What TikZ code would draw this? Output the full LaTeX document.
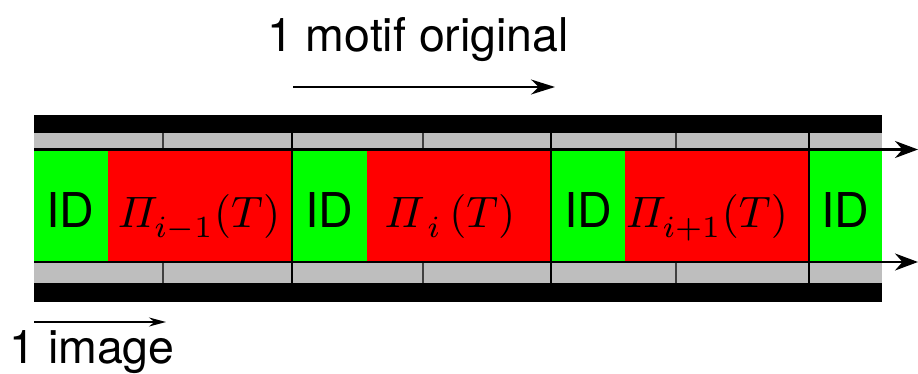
\documentclass[tikz,border=0pt]{standalone}
\usepackage{amsmath}
\usepackage[no-math]{fontspec}
\setmainfont{TeX Gyre Heros}
\usetikzlibrary{arrows.meta}
\definecolor{bandgray}{HTML}{BEBEBE}
\definecolor{tickgray}{HTML}{404040}
\definecolor{idgreen}{HTML}{00FF00}
\definecolor{pired}{HTML}{FF0000}
\newcommand\lowsub[1]{\lower0.8pt\hbox{$\scriptstyle #1$}}
\tikzset{
  idlabel/.style={anchor=base, inner sep=0pt, font=\fontsize{48}{56}\selectfont},
  pilabel/.style={anchor=base, inner sep=0pt, scale=4.4},
  toplabel/.style={anchor=base, inner sep=0pt, font=\fontsize{46.5}{54}\selectfont},
  bigarrow/.style={line width=2.5pt, -{Stealth[length=23pt,width=17pt]}},
  motifarrow/.style={line width=2pt, -{Stealth[length=24pt,width=15pt]}},
  imgarrow/.style={line width=1.5pt, -{Stealth[length=17pt,width=9pt]}},
  tick/.style={draw=tickgray, line width=1.5pt},
  divider/.style={draw=black, line width=1.2pt}
}
\begin{document}
\begin{tikzpicture}[x=1pt,y=-1pt]
\useasboundingbox (0,0) rectangle (918,374);
% bands
\fill[black] (34,115) rectangle (882,133);
\fill[bandgray] (34,133) rectangle (882,150);
\fill[bandgray] (34,262) rectangle (882,283);
\fill[black] (34,283) rectangle (882,302);
% coloured cells
\fill[idgreen] (34,150) rectangle (108,262);
\fill[pired] (108,150) rectangle (292,262);
\fill[idgreen] (292,150) rectangle (367,262);
\fill[pired] (367,150) rectangle (551,262);
\fill[idgreen] (551,150) rectangle (625,262);
\fill[pired] (625,150) rectangle (809,262);
\fill[idgreen] (809,150) rectangle (882,262);
% image ticks
\foreach \x in {163,423,676} {
  \draw[tick] (\x,133) -- (\x,151);
  \draw[tick] (\x,262) -- (\x,283);
}
\foreach \x in {292,551,809} {
  \draw[divider] (\x,133) -- (\x,283);
}
% long arrows
\coordinate (ta) at (34,149.5);
\coordinate (tb) at (918,149.5);
\coordinate (ba) at (34,262);
\coordinate (bb) at (918,262);
\draw[bigarrow] (ta) -- (tb);
\draw[bigarrow] (ba) -- (bb);
% labels in cells
\node[idlabel] (id1) at (70,228) {ID};
\node[idlabel] (id2) at (329,228) {ID};
\node[idlabel] (id3) at (588,228) {ID};
\node[idlabel] (id4) at (845,228) {ID};
\node[pilabel] (p1) at (199,227) {$\varPi_{\lowsub{i-1}}(T)$};
\node[pilabel] (p2) at (450,227) {$\varPi_{\,\lowsub{i}}\,(T)$};
\node[pilabel] (p3) at (707,227) {$\varPi_{\lowsub{i+1}}(T)$};
% motif arrow
\node[toplabel] (motif) at (418,52) {1 motif original};
\coordinate (ma) at (293,87);
\coordinate (mb) at (555,87);
\draw[motifarrow] (ma) -- (mb);
% image arrow
\coordinate (ia) at (34,322);
\coordinate (ib) at (166,322);
\draw[imgarrow] (ia) -- (ib);
\node[toplabel] (img) at (92,363) {1 image};
\end{tikzpicture}
\end{document}
